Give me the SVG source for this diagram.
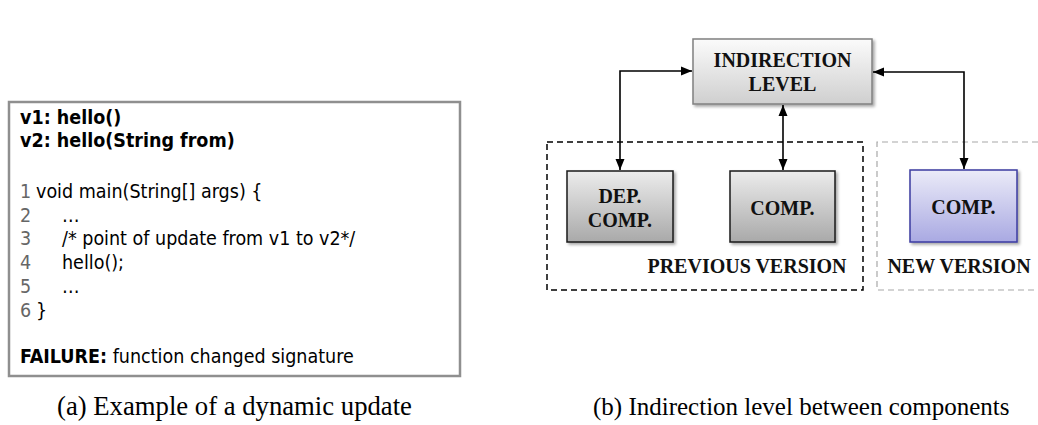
<svg xmlns="http://www.w3.org/2000/svg" width="1038" height="425" viewBox="0 0 1038 425">
<style>
.code{font-family:"DejaVu Sans","Verdana",sans-serif;font-stretch:condensed;font-size:19.5px;fill:#000}
.b{font-weight:bold}
.num{fill:#666}
.lbl{font-family:"Liberation Serif","Times New Roman",serif;font-size:20px;font-weight:bold;fill:#111;text-anchor:middle}
.cap{font-family:"Liberation Serif","Times New Roman",serif;fill:#000}
.conn{fill:none;stroke:#000;stroke-width:1.6}
</style>
<defs>
<linearGradient id="gLight" x1="0" y1="0" x2="0" y2="1">
<stop offset="0" stop-color="#fbfbfb"/><stop offset="1" stop-color="#cfcfcf"/>
</linearGradient>
<linearGradient id="gGray" x1="0" y1="0" x2="0" y2="1">
<stop offset="0" stop-color="#ececec"/><stop offset="1" stop-color="#a9a9a9"/>
</linearGradient>
<linearGradient id="gBlue" x1="0" y1="0" x2="0" y2="1">
<stop offset="0" stop-color="#ebebf8"/><stop offset="1" stop-color="#a9a9e2"/>
</linearGradient>
<filter id="sh" x="-10%" y="-10%" width="130%" height="130%">
<feDropShadow dx="2" dy="2" stdDeviation="1.5" flood-color="#000" flood-opacity="0.35"/>
</filter>
<marker id="ah" viewBox="0 0 11 10" refX="11" refY="5" markerWidth="11" markerHeight="10" markerUnits="userSpaceOnUse" orient="auto-start-reverse">
<path d="M0,0.5 L11,5 L0,9.5 Z" fill="#000"/>
</marker>
</defs>

<g id="code-example">
<rect x="9" y="102" width="451" height="274" fill="#fff" stroke="#8f8f8f" stroke-width="2.5"/>
<text class="code b" x="20" y="124">v1: hello()</text>
<text class="code b" x="20" y="147">v2: hello(String from)</text>
<text class="code" x="20" y="198"><tspan class="num">1</tspan><tspan x="36">void main(String[] args) {</tspan></text>
<text class="code" x="20" y="222"><tspan class="num">2</tspan><tspan x="62">…</tspan></text>
<text class="code" x="20" y="245"><tspan class="num">3</tspan><tspan x="62">/* point of update from v1 to v2*/</tspan></text>
<text class="code" x="20" y="269"><tspan class="num">4</tspan><tspan x="62">hello();</tspan></text>
<text class="code" x="20" y="293"><tspan class="num">5</tspan><tspan x="62">…</tspan></text>
<text class="code" x="20" y="317"><tspan class="num">6</tspan><tspan x="36">}</tspan></text>
<text class="code" x="20" y="363"><tspan class="b">FAILURE:</tspan> function changed signature</text>
</g>
<text id="caption-a" class="cap" x="57" y="415" font-size="26.7">(a) Example of a dynamic update</text>

<g id="previous-version">
<rect x="547" y="142" width="316" height="148" fill="none" stroke="#000" stroke-width="1.5" stroke-dasharray="6,4"/>
<text class="lbl" x="747" y="273">PREVIOUS VERSION</text>
</g>
<g id="new-version">
<path d="M1038,142 H877 V290 H1038" fill="none" stroke="#a8a8a8" stroke-width="1.2" stroke-dasharray="6,4"/>
<text class="lbl" x="959" y="273">NEW VERSION</text>
</g>

<g id="indirection-level">
<rect x="693" y="39" width="179" height="65" fill="url(#gLight)" stroke="#808080" stroke-width="1.5" filter="url(#sh)"/>
<text class="lbl" x="782.5" y="67">INDIRECTION</text>
<text class="lbl" x="782.5" y="91">LEVEL</text>
</g>
<g id="dep-comp">
<rect x="567" y="171" width="106" height="71" fill="url(#gGray)" stroke="#1a1a1a" stroke-width="1.5" filter="url(#sh)"/>
<text class="lbl" x="620" y="203">DEP.</text>
<text class="lbl" x="620" y="227">COMP.</text>
</g>
<g id="comp-old">
<rect x="730" y="171" width="105" height="71" fill="url(#gGray)" stroke="#1a1a1a" stroke-width="1.5" filter="url(#sh)"/>
<text class="lbl" x="782.5" y="215">COMP.</text>
</g>
<g id="comp-new">
<rect x="910" y="170" width="107" height="72" fill="url(#gBlue)" stroke="#3b3ba0" stroke-width="1.5" filter="url(#sh)"/>
<text class="lbl" x="963.5" y="214">COMP.</text>
</g>

<g id="connectors">
<path class="conn" d="M620,170 V71 H692" marker-start="url(#ah)" marker-end="url(#ah)"/>
<path class="conn" d="M783,105 V170" marker-start="url(#ah)" marker-end="url(#ah)"/>
<path class="conn" d="M873,72 H964 V169" marker-start="url(#ah)" marker-end="url(#ah)"/>
</g>
<text id="caption-b" class="cap" x="593" y="415" font-size="25">(b) Indirection level between components</text>
</svg>
